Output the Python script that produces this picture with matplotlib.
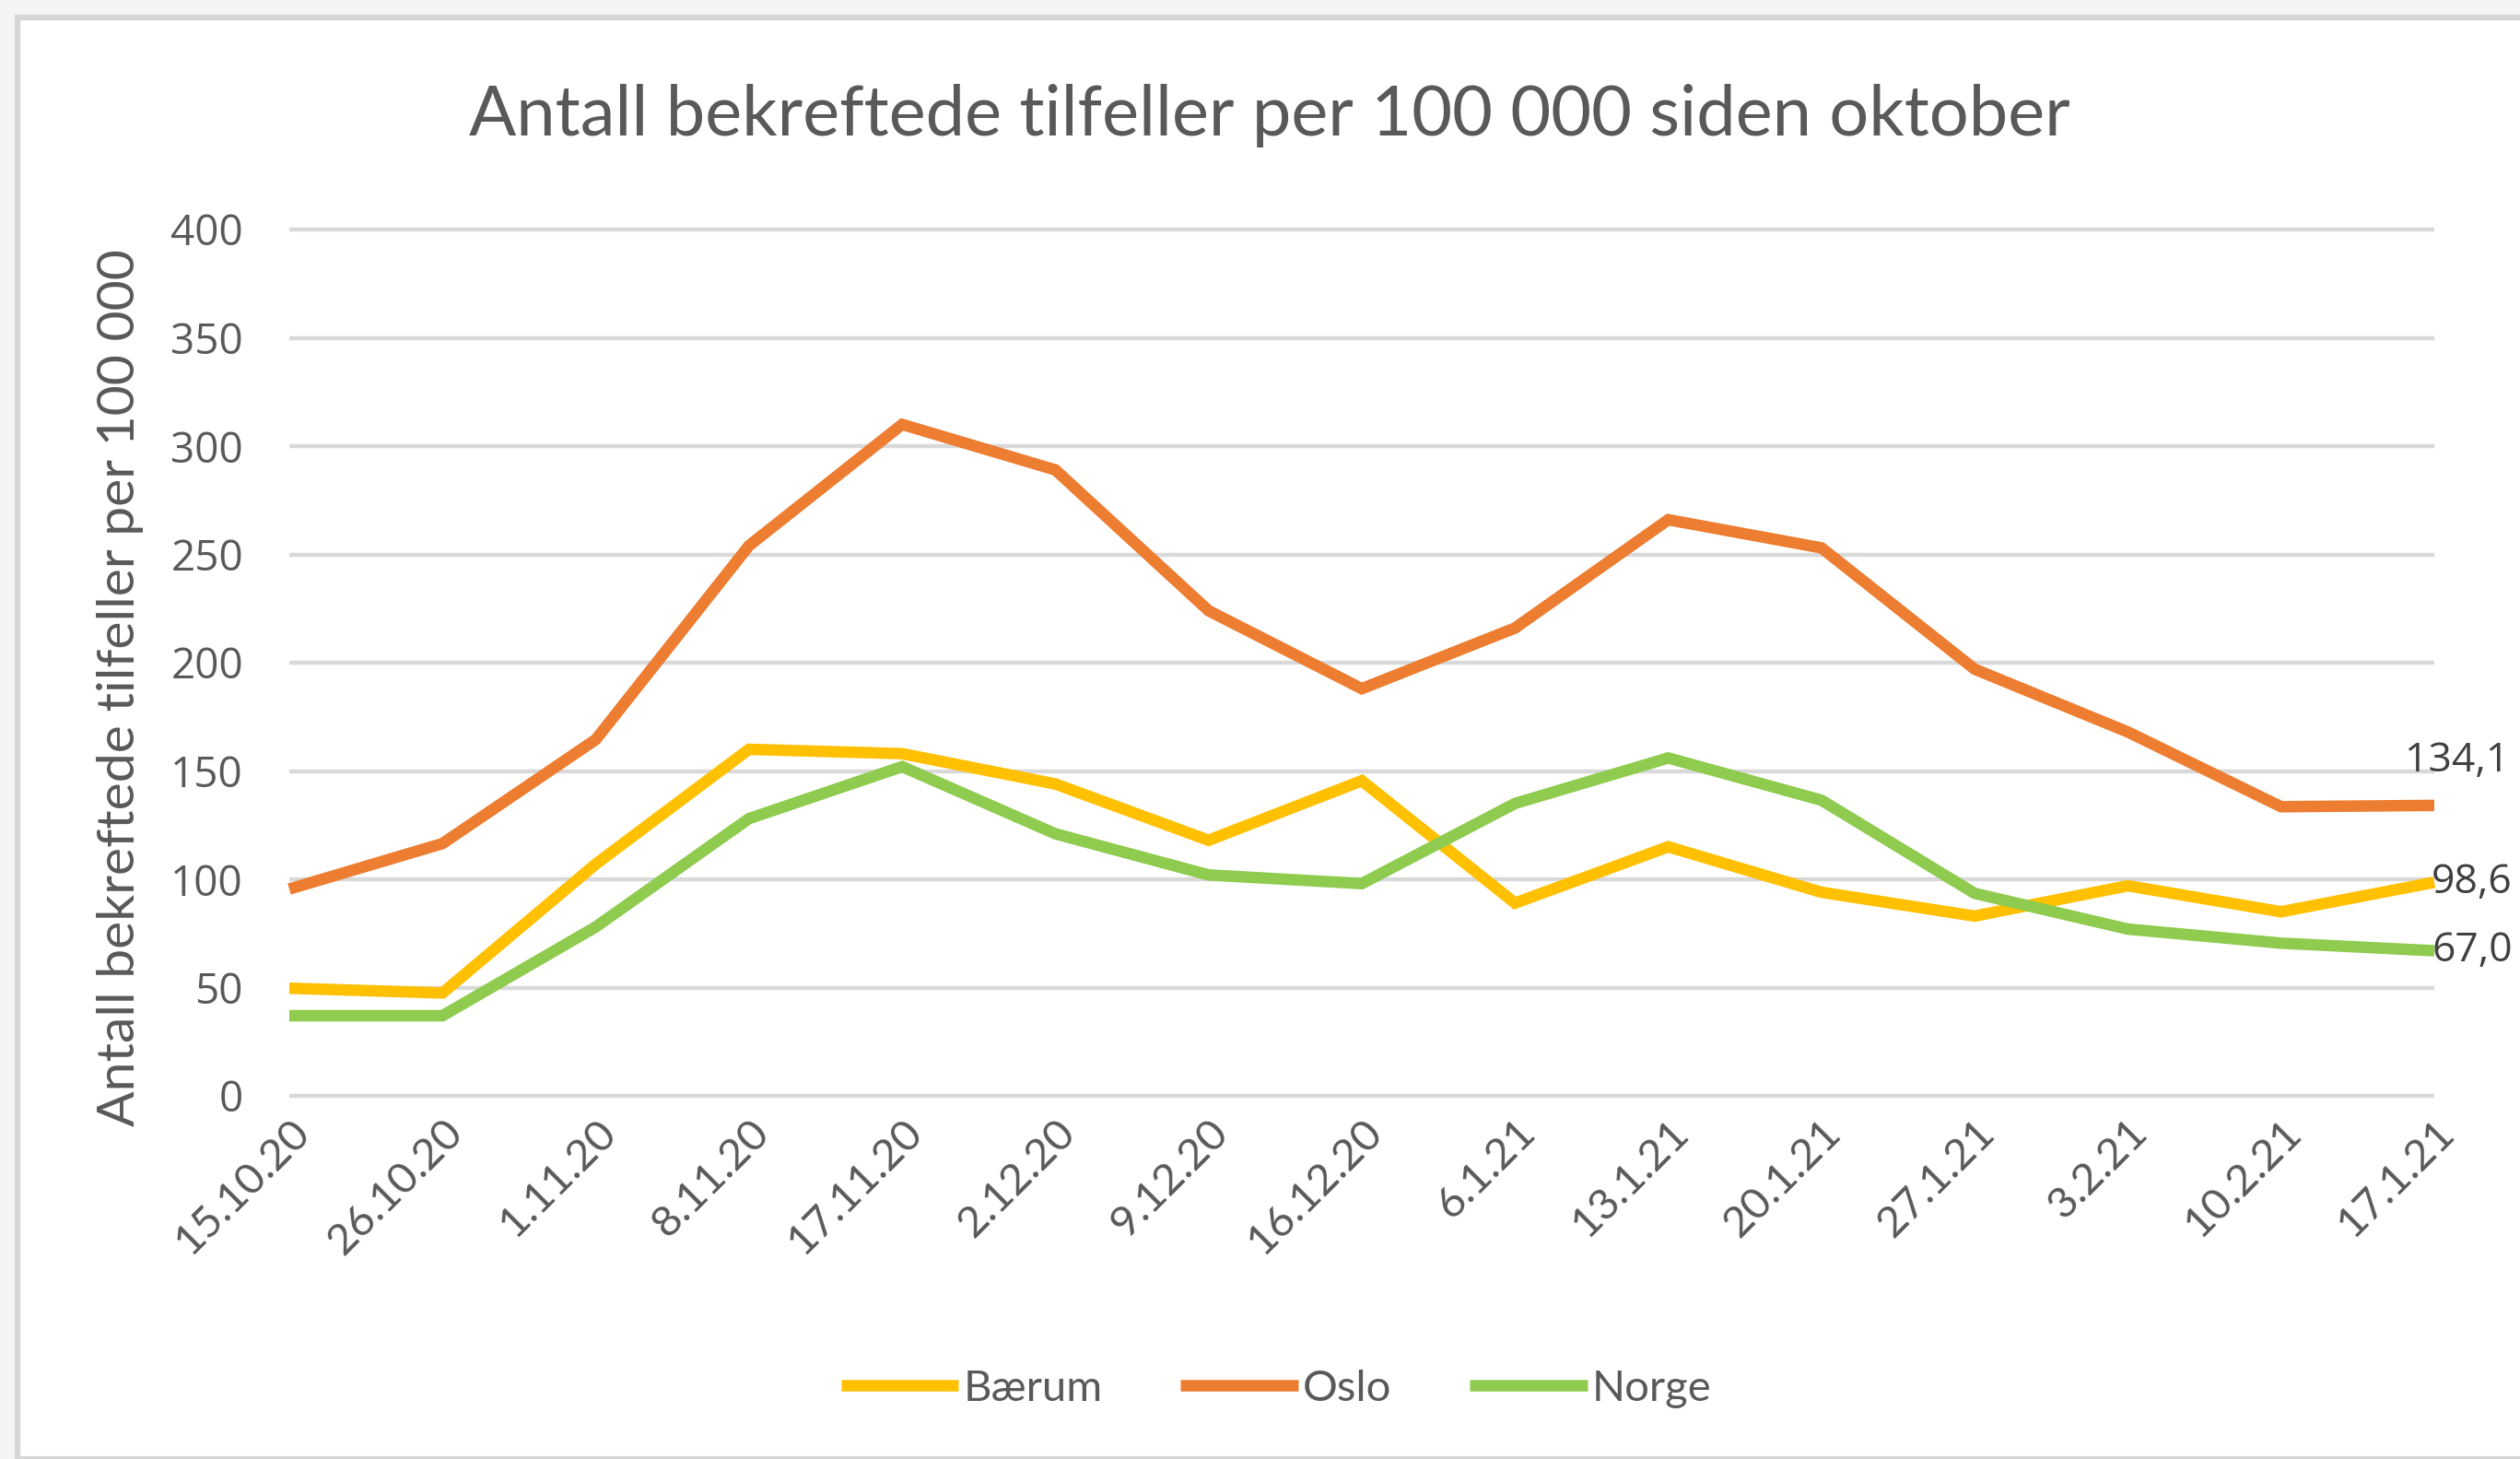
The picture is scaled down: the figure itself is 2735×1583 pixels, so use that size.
import matplotlib.pyplot as plt
from matplotlib.patches import Rectangle

# data
dates = ['15.10.20', '26.10.20', '1.11.20', '8.11.20', '17.11.20', '2.12.20',
         '9.12.20', '16.12.20', '6.1.21', '13.1.21', '20.1.21', '27.1.21',
         '3.2.21', '10.2.21', '17.1.21']
baerum = [49.7, 47.5, 107, 160, 158, 144, 118, 145.5, 89, 115, 94, 83, 97, 85, 98.6]
oslo = [95.5, 116.5, 164.5, 254, 310, 289, 224, 188, 216, 266, 253, 197, 168, 133.5, 134.1]
norge = [37, 37, 78, 128, 152, 121, 102, 98, 135, 156, 136.5, 93.5, 77, 70.5, 67.0]
series_names = ['Bærum', 'Oslo', 'Norge']
y_ticks = [0, 50, 100, 150, 200, 250, 300, 350, 400]

colors = ['#FFC000', '#ED7D31', '#8FCB4E']
text_col = '#595959'

W, H = 2735, 1583
fig = plt.figure(figsize=(W / 100, H / 100), dpi=100, facecolor='#f3f4f3')

# chart frame (screenshot border)
fig.patches.append(Rectangle((19 / W, 0), 1, 1 - 19 / H, transform=fig.transFigure,
                             facecolor='white', edgecolor='#d6d6d6', linewidth=4.5,
                             zorder=-10))

ax = fig.add_axes([314 / W, 1 - 1189 / H, (2642 - 314) / W, (1189 - 249) / H])
ax.set_facecolor('none')
x = list(range(len(dates)))

ax.hlines(y_ticks, 0, len(dates) - 1, colors='#d9d9d9', linewidth=3.2, clip_on=False, zorder=1)

for vals, name, c in zip([baerum, oslo, norge], series_names, colors):
    ax.plot(x, vals, color=c, linewidth=9, label=name, solid_capstyle='butt',
            solid_joinstyle='miter', clip_on=False, zorder=3)

ax.set_xlim(0, len(dates) - 1)
ax.set_ylim(0, 400)
for s in ax.spines.values():
    s.set_visible(False)
ax.tick_params(length=0)

ax.set_yticks(y_ticks)
ax.set_yticklabels([str(v) for v in y_ticks], fontsize=33, color=text_col,
                   fontfamily='Open Sans')
ax.tick_params(axis='y', pad=36)

ax.set_xticks(x)
ax.set_xticklabels(dates, rotation=45, ha='right', va='top', rotation_mode='anchor',
                   fontsize=34, color=text_col, fontfamily='Lato')
ax.tick_params(axis='x', pad=13)

# data labels on last point
last = len(dates) - 1
ax.annotate(f'{oslo[-1]:.1f}'.replace('.', ','), (last, oslo[-1]), xytext=(-23, 35),
            textcoords='offset points', ha='left', va='center', fontsize=32,
            color='#404040', fontfamily='Open Sans', annotation_clip=False)
for vals in [baerum, norge]:
    ax.annotate(f'{vals[-1]:.1f}'.replace('.', ','), (last, vals[-1]), xytext=(-2, 0),
                textcoords='offset points', ha='left', va='center', fontsize=32,
                color='#404040', fontfamily='Open Sans', annotation_clip=False)

fig.text(1378 / W, 1 - 125 / H, 'Antall bekreftede tilfeller per 100 000 siden oktober',
         ha='center', va='center', fontsize=54.5, color=text_col, fontfamily='Lato')
fig.text(131 / W, 1 - 746 / H, 'Antall bekreftede tilfeller per 100 000',
         ha='center', va='center', rotation=90, fontsize=41, color=text_col,
         fontfamily='Lato')

leg = fig.legend(loc='center', bbox_to_anchor=(1385 / W, 1 - 1507 / H), ncol=3,
                 frameon=False, handlelength=2.7, handletextpad=0.1, columnspacing=1.8,
                 prop={'family': 'Lato', 'size': 34})
for t in leg.get_texts():
    t.set_color(text_col)

fig.savefig('out.png', dpi=100, facecolor=fig.get_facecolor())
